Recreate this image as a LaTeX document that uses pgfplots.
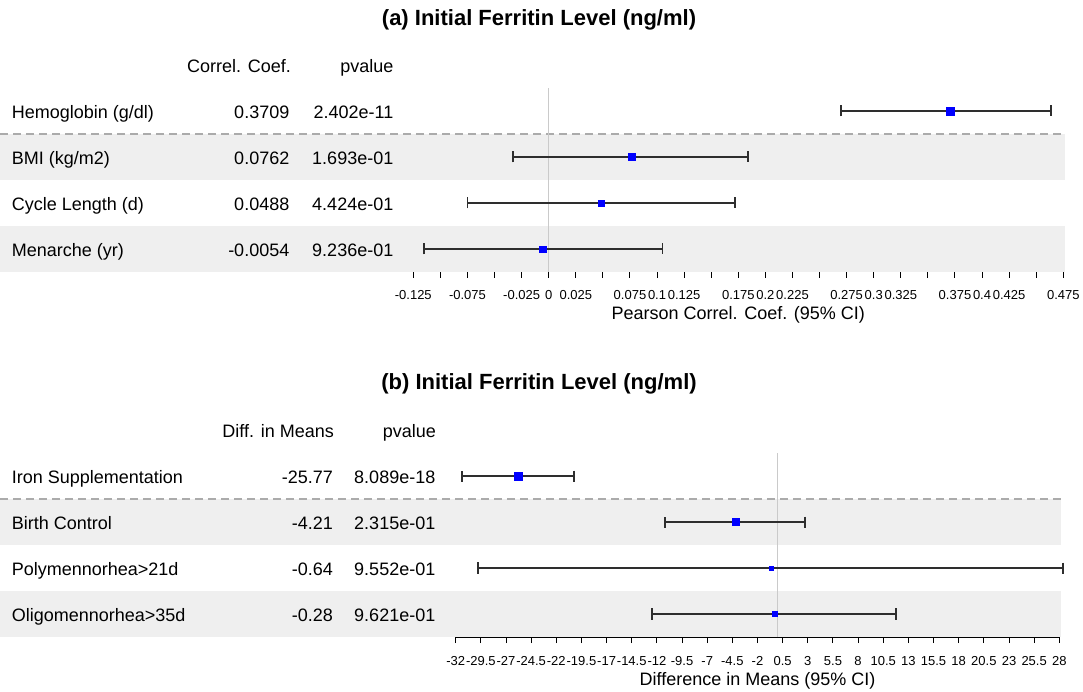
\documentclass[border=0pt]{standalone}
\usepackage{pgfplots}
\pgfplotsset{compat=1.18}
\usepackage{pgfplotstable}
\usepackage{fontspec}
\setmainfont{Liberation Sans}

\definecolor{band}{HTML}{EFEFEF}
\definecolor{dashgray}{HTML}{ABABAB}
\definecolor{zerogray}{HTML}{CACACA}
\definecolor{barcol}{HTML}{2E2E2E}

\newcommand\txt{\fontsize{18bp}{21bp}\selectfont}
\newcommand\ttl{\fontsize{22bp}{26bp}\selectfont\bfseries}

% row est lo hi marker-half-size
\pgfplotstableread{
row est lo hi ms
4 0.3709 0.270 0.464 4.0
3 0.0762 -0.033 0.184 3.5
2 0.0488 -0.075 0.172 3.0
1 -0.0054 -0.115 0.105 3.2
}\corr

\pgfplotstableread{
row est lo hi ms
4 -25.77 -31.4 -20.2 4.1
3 -4.21 -11.2 2.7 3.5
2 -0.64 -29.8 28.4 1.9
1 -0.28 -12.5 11.8 2.5
}\diff

\pgfplotsset{
  forest/.style={
    scale only axis, height=184bp, ymin=0.5, ymax=4.5, clip=false,
    axis x line*=bottom, axis y line=none,
    axis line style={-,black,line width=1bp},
    tick style={black,line width=1bp}, major tick length=6bp, tick align=outside,
    xticklabel style={font=\fontsize{13bp}{15bp}\selectfont, anchor=base, yshift=-22bp},
  },
  ci/.style={
    line width=1.9bp, draw=barcol,
    scatter, only marks, mark=square*,
    mark options={line width=0.4bp},
    scatter/use mapped color={draw=blue,fill=blue},
    visualization depends on={\thisrow{ms} \as \msz},
    scatter/@pre marker code/.append style={/tikz/mark size=\msz},
    error bars/.cd, x dir=both, x explicit,
    error bar style={draw=barcol, line width=1.9bp},
    error mark=|,
    error mark options={draw=barcol, line width=1.9bp, mark size=5.5bp},
  },
}

\begin{document}
\begin{tikzpicture}
\useasboundingbox (0,0) rectangle (1083bp,692bp);

% ---- (a) ----
\node[anchor=base] at (539bp,666.5bp) {\ttl (a) Initial Ferritin Level (ng/ml)};
\begin{axis}[forest, at={(413.3bp,420bp)}, width=650bp,
  xmin=-0.125, xmax=0.475,
  xtick={-0.125,-0.1,-0.075,-0.05,-0.025,0,0.025,0.05,0.075,0.1,0.125,0.15,0.175,0.2,0.225,0.25,0.275,0.3,0.325,0.35,0.375,0.4,0.425,0.45,0.475},
  xticklabels={{-0.125},{},{-0.075},{},{-0.025},{0},{0.025},{},{0.075},{0.1},{0.125},{},{0.175},{0.2},{0.225},{},{0.275},{0.3},{0.325},{},{0.375},{0.4},{0.425},{},{0.475}},
]
\fill[band] (axis cs:-0.5065,2.5) rectangle (axis cs:0.4766,3.5);
\fill[band] (axis cs:-0.5065,0.5) rectangle (axis cs:0.4766,1.5);
\draw[dashgray, line width=1.5bp, dash pattern=on 8bp off 5bp] (axis cs:-0.5065,3.5) -- (axis cs:0.4766,3.5);
\addplot[zerogray, line width=1.2bp] coordinates {(0,0.5) (0,4.5)};
\addplot[ci] table[x=est, y=row,
  x error minus expr=\thisrow{est}-\thisrow{lo},
  x error plus expr=\thisrow{hi}-\thisrow{est}] {\corr};
\node[anchor=base, yshift=-48bp] at (rel axis cs:0.5,0) {\txt Pearson Correl. Coef. (95\% CI)};
\end{axis}

\node[anchor=base east, inner sep=0pt] at (291bp,619.5bp) {\txt Correl. Coef.};
\node[anchor=base east, inner sep=0pt] at (393.5bp,619.5bp) {\txt pvalue};
\foreach \y/\a/\b/\c in {573.2/{Hemoglobin (g/dl)}/0.3709/2.402e-11,
                         527.2/{BMI (kg/m2)}/0.0762/1.693e-01,
                         481.2/{Cycle Length (d)}/0.0488/4.424e-01,
                         435.2/{Menarche (yr)}/-0.0054/9.236e-01}{
  \node[anchor=base west, inner sep=0pt] at (11.7bp,\y bp) {\txt \a};
  \node[anchor=base east, inner sep=0pt] at (289.5bp,\y bp) {\txt \b};
  \node[anchor=base east, inner sep=0pt] at (393.5bp,\y bp) {\txt \c};
}

% ---- (b) ----
\node[anchor=base] at (539bp,302.5bp) {\ttl (b) Initial Ferritin Level (ng/ml)};
\begin{axis}[forest, at={(455.7bp,55bp)}, width=603.6bp,
  xmin=-32, xmax=28,
  xtick={-32,-29.5,-27,-24.5,-22,-19.5,-17,-14.5,-12,-9.5,-7,-4.5,-2,0.5,3,5.5,8,10.5,13,15.5,18,20.5,23,25.5,28},
  xticklabels={-32,-29.5,-27,-24.5,-22,-19.5,-17,-14.5,-12,-9.5,-7,-4.5,-2,0.5,3,5.5,8,10.5,13,15.5,18,20.5,23,25.5,28},
]
\fill[band] (axis cs:-77.3,2.5) rectangle (axis cs:28.17,3.5);
\fill[band] (axis cs:-77.3,0.5) rectangle (axis cs:28.17,1.5);
\draw[dashgray, line width=1.5bp, dash pattern=on 8bp off 5bp] (axis cs:-77.3,3.5) -- (axis cs:28.17,3.5);
\addplot[zerogray, line width=1.2bp] coordinates {(0,0.5) (0,4.5)};
\addplot[ci] table[x=est, y=row,
  x error minus expr=\thisrow{est}-\thisrow{lo},
  x error plus expr=\thisrow{hi}-\thisrow{est}] {\diff};
\node[anchor=base, yshift=-48bp] at (rel axis cs:0.5,0) {\txt Difference in Means (95\% CI)};
\end{axis}

\node[anchor=base east, inner sep=0pt] at (334bp,254.2bp) {\txt Diff. in Means};
\node[anchor=base east, inner sep=0pt] at (436bp,254.2bp) {\txt pvalue};
\foreach \y/\a/\b/\c in {208.2/{Iron Supplementation}/-25.77/8.089e-18,
                         162.2/{Birth Control}/-4.21/2.315e-01,
                         116.2/{Polymennorhea>21d}/-0.64/9.552e-01,
                         70.2/{Oligomennorhea>35d}/-0.28/9.621e-01}{
  \node[anchor=base west, inner sep=0pt] at (11.7bp,\y bp) {\txt \a};
  \node[anchor=base east, inner sep=0pt] at (333bp,\y bp) {\txt \b};
  \node[anchor=base east, inner sep=0pt] at (435.5bp,\y bp) {\txt \c};
}
\end{tikzpicture}
\end{document}
